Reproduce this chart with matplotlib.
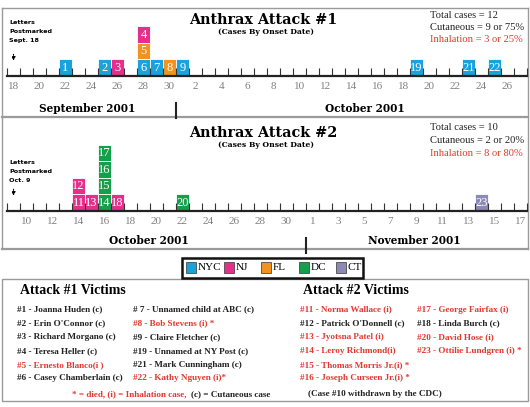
import datetime as dt
import matplotlib
matplotlib.use('Agg')
import matplotlib.pyplot as plt
import matplotlib.dates as mdates
from matplotlib.patches import Rectangle

W, H = 530, 407

# colour per site
site_colors = {'NYC': '#1aa2dd', 'NJ': '#e4308b', 'FL': '#f2921f', 'DC': '#14a04b', 'CT': '#8c89b7'}
red = '#e03a30'

# Attack #1 cases, listed bottom-to-top within each onset day
attack1_case = [1, 2, 3, 6, 5, 4, 7, 8, 9, 19, 21, 22]
attack1_onset = ['2001-09-22', '2001-09-25', '2001-09-26', '2001-09-28', '2001-09-28', '2001-09-28',
                 '2001-09-29', '2001-09-30', '2001-10-01', '2001-10-19', '2001-10-23', '2001-10-25']
attack1_site = ['NYC', 'NYC', 'NJ', 'NYC', 'FL', 'NJ', 'NYC', 'FL', 'NYC', 'NYC', 'NYC', 'NYC']
attack1_span = ('2001-09-18', '2001-10-27')
attack1_first_tick = '2001-09-18'
attack1_month_split = '2001-10-01'

# Attack #2 cases
attack2_case = [11, 12, 13, 14, 15, 16, 17, 18, 20, 23]
attack2_onset = ['2001-10-14', '2001-10-14', '2001-10-15', '2001-10-16', '2001-10-16', '2001-10-16',
                 '2001-10-16', '2001-10-17', '2001-10-22', '2001-11-14']
attack2_site = ['NJ', 'NJ', 'NJ', 'DC', 'DC', 'DC', 'DC', 'NJ', 'DC', 'CT']
attack2_span = ('2001-10-09', '2001-11-17')
attack2_first_tick = '2001-10-10'
attack2_month_split = '2001-11-01'

attack1_stats = ['Total cases = 12', 'Cutaneous = 9 or 75%', 'Inhalation = 3 or 25%']
attack2_stats = ['Total cases = 10', 'Cutaneous = 2 or 20%', 'Inhalation = 8 or 80%']

legend_sites = ['NYC', 'NJ', 'FL', 'DC', 'CT']

victims1_a = ['#1 - Joanna Huden (c)', "#2 - Erin O'Connor (c)", '#3 - Richard Morgano (c)',
              '#4 - Teresa Heller (c)', '#5 - Ernesto Blanco(i )', '#6 - Casey Chamberlain (c)']
victims1_b = ['# 7 - Unnamed child at ABC (c)', '#8 - Bob Stevens (i) *', '#9 - Claire Fletcher (c)',
              '#19 - Unnamed at NY Post (c)', '#21 - Mark Cunningham (c)', '#22 - Kathy Nguyen (i)*']
victims2_a = ['#11 - Norma Wallace (i)', "#12 - Patrick O'Donnell (c)", '#13 - Jyotsna Patel (i)',
              '#14 - Leroy Richmond(i)', '#15 - Thomas Morris Jr.(i) *', '#16 - Joseph Curseen Jr.(i) *']
victims2_b = ['#17 - George Fairfax (i)', '#18 - Linda Burch (c)', '#20 - David Hose (i)',
              '#23 - Ottilie Lundgren (i) *']

SERIF = 'Liberation Serif'
LEVEL_PX = 16.5
DAY_PX = 13.0

fig = plt.figure(figsize=(W / 100, H / 100), dpi=100)
bg = fig.add_axes([0, 0, 1, 1])
bg.set_xlim(0, W)
bg.set_ylim(H, 0)
bg.axis('off')


def px_axes(x0, y_bottom, w, h):
    return fig.add_axes([x0 / W, 1 - y_bottom / H, w / W, h / H])


def timeline(y_axis, case, onset, site, span, first_tick, split, nlev):
    d0 = mdates.date2num(dt.datetime.fromisoformat(span[0])) - 0.5
    d1 = mdates.date2num(dt.datetime.fromisoformat(span[1])) + 0.5
    x0 = 7
    ax = px_axes(x0, y_axis, (d1 - d0) * DAY_PX, nlev * LEVEL_PX)
    ax.set_xlim(d0, d1)
    ax.set_ylim(0, nlev)
    ax.patch.set_alpha(0)
    for s in ['top', 'left', 'right']:
        ax.spines[s].set_visible(False)
    ax.spines['bottom'].set_linewidth(1.6)
    ax.spines['bottom'].set_color('#222222')
    ax.set_yticks([])

    # stacked case boxes
    counts = {}
    for c, o, s in zip(case, onset, site):
        d = mdates.date2num(dt.datetime.fromisoformat(o))
        lev = counts.get(o, 0)
        counts[o] = lev + 1
        ax.bar(d, 1, bottom=lev, width=1, color=site_colors[s], edgecolor='white',
               linewidth=0.6, zorder=1)
        ax.text(d, lev + 0.48, str(c), ha='center', va='center', color='white',
                fontsize=9, family=SERIF, zorder=2)

    # ticks at day boundaries, labels every second day
    minor = [d0 + k for k in range(int(round(d1 - d0)) + 1)]
    ax.set_xticks(minor, minor=True)
    t0 = mdates.date2num(dt.datetime.fromisoformat(first_tick))
    major = [t0 + 2 * k for k in range(int((d1 - t0) // 2) + 1)]
    ax.set_xticks(major)
    ax.set_xticklabels([str(mdates.num2date(m).day) for m in major])
    ax.tick_params(axis='x', which='minor', direction='in', length=6, width=0.8, color='#333333')
    ax.tick_params(axis='x', which='major', length=0, pad=5, labelsize=8, labelcolor='#808080')
    for lab in ax.get_xticklabels():
        lab.set_family(SERIF)

    # month separator below the axis
    sd = mdates.date2num(dt.datetime.fromisoformat(split)) - 0.5
    hpx = nlev * LEVEL_PX
    ax.plot([sd, sd], [-27 / hpx, -42 / hpx], transform=ax.get_xaxis_transform(),
            color='#222222', lw=1.5, clip_on=False)

    # postmark arrow
    pd0 = mdates.date2num(dt.datetime.fromisoformat(span[0]))
    ax.annotate('', xy=(pd0, 12 / LEVEL_PX), xytext=(pd0, 24 / LEVEL_PX),
                arrowprops=dict(arrowstyle='-|>', lw=0.8, color='black', mutation_scale=5,
                                linestyle=(0, (1, 1))))
    return ax


timeline(75.5, attack1_case, attack1_onset, attack1_site, attack1_span,
         attack1_first_tick, attack1_month_split, 4)
timeline(210.5, attack2_case, attack2_onset, attack2_site, attack2_span,
         attack2_first_tick, attack2_month_split, 5)

# frames
frame = '#9a9a9a'
bg.plot([2, 528], [8, 8], color=frame, lw=1)
bg.plot([2, 528], [117, 117], color=frame, lw=1.6)
bg.plot([2, 528], [249, 249], color=frame, lw=1.6)
bg.plot([2, 2], [8, 249], color=frame, lw=1)
bg.plot([528, 528], [8, 249], color=frame, lw=1)
bg.add_patch(Rectangle((2, 279), 526, 122, fill=False, edgecolor=frame, lw=1))

# titles
for yt, ys, t in [(20, 32, 'Anthrax Attack #1'), (133, 145, 'Anthrax Attack #2')]:
    bg.text(263, yt, t, ha='center', va='center', fontsize=10.4, fontweight='bold',
            family='DejaVu Serif')
    bg.text(266, ys, '(Cases By Onset Date)', ha='center', va='center', fontsize=5.5,
            fontweight='bold', family='DejaVu Serif')

for y0, stats in [(15, attack1_stats), (128, attack2_stats)]:
    for i, s in enumerate(stats):
        bg.text(430, y0 + 12.5 * i, s, ha='left', va='center', fontsize=7.6, family=SERIF,
                color=red if s.startswith('Inhal') else '#222222')

for y0, note in [(23, ['Letters', 'Postmarked', 'Sept. 18']), (163, ['Letters', 'Postmarked', 'Oct. 9'])]:
    for i, s in enumerate(note):
        bg.text(9, y0 + 8.7 * i, s, ha='left', va='center', fontsize=4.6, fontweight='bold',
                family='DejaVu Sans')

# month labels
for x, y, s in [(87, 108, 'September 2001'), (365, 108, 'October 2001'),
                (149, 241, 'October 2001'), (414, 241, 'November 2001')]:
    bg.text(x, y, s, ha='center', va='center', fontsize=7.6, fontweight='bold', family='DejaVu Serif')

# legend
bg.add_patch(Rectangle((182, 258), 181, 20, fill=False, edgecolor='#111111', lw=1.8))
for i, s in enumerate(legend_sites):
    lx = 186 + 37.5 * i
    bg.add_patch(Rectangle((lx, 262), 10, 11, facecolor=site_colors[s], edgecolor='#333333', lw=0.5))
    bg.text(lx + 12, 268, s, ha='left', va='center', fontsize=8, family=SERIF)

# victims
bg.text(20, 291, 'Attack #1 Victims', ha='left', va='center', fontsize=10, fontweight='bold', family=SERIF)
bg.text(303, 291, 'Attack #2 Victims', ha='left', va='center', fontsize=10, fontweight='bold', family=SERIF)
for x, col in [(17, victims1_a), (133, victims1_b), (300, victims2_a), (417, victims2_b)]:
    for i, s in enumerate(col):
        bg.text(x, 309.5 + 13.8 * i, s, ha='left', va='center', fontsize=6.6, fontweight='bold',
                family=SERIF, color=red if '(i' in s else '#222222')

t1 = bg.text(72, 394, '* = died, (i) = Inhalation case,', ha='left', va='center', fontsize=6.6,
             fontweight='bold', family=SERIF, color=red)
bg.annotate('(c) = Cutaneous case', xy=(1, 0), xycoords=t1, xytext=(3, 0), textcoords='offset points',
            ha='left', va='bottom', fontsize=6.6, fontweight='bold', family=SERIF, color='#222222')
bg.text(308, 394, '(Case #10 withdrawn by the CDC)', ha='left', va='center', fontsize=6.6,
        fontweight='bold', family=SERIF, color='#222222')

fig.savefig('out.png', dpi=100)
